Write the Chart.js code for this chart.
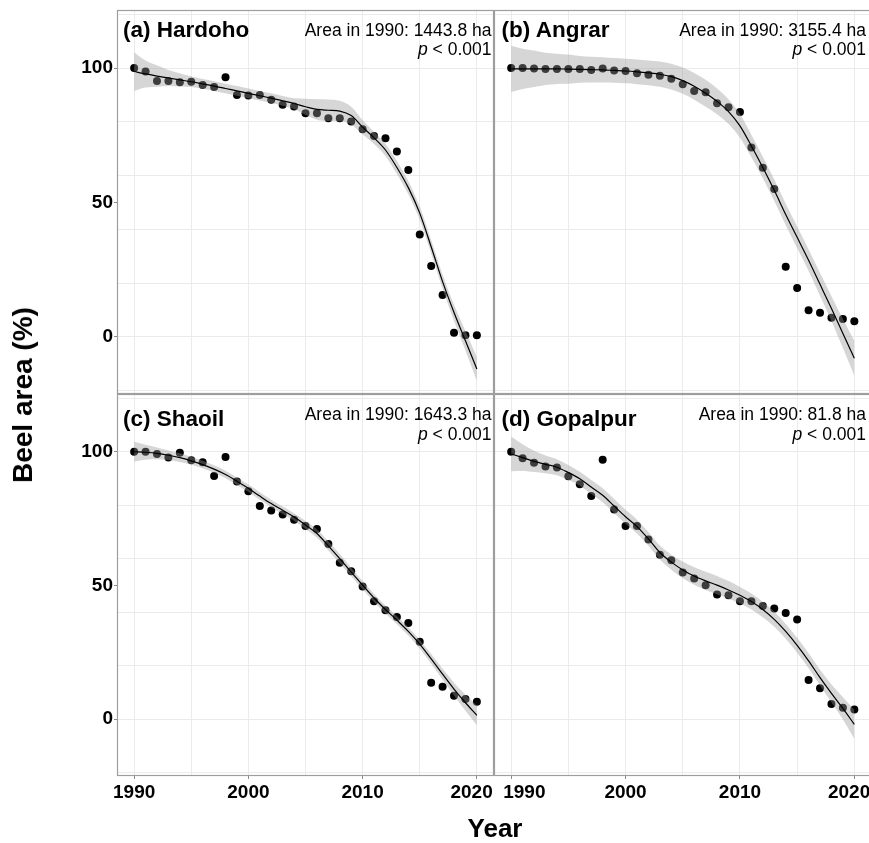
<!DOCTYPE html>
<html>
<head>
<meta charset="utf-8">
<script src="https://cdn.jsdelivr.net/npm/chart.js@4.4.1/dist/chart.umd.min.js"></script>
<style>
  html, body { margin: 0; padding: 0; background: #fff; overflow: hidden; }
  #wrap { position: relative; width: 869px; height: 843px; overflow: hidden;
          font-family: "Liberation Sans", Arial, sans-serif; color: #000; }
  #wrap canvas { position: absolute; left: 0; top: 0; }
  .lab { position: absolute; white-space: nowrap; line-height: 1; }
  .ttl { font-weight: bold; font-size: 22.5px; }
  .ann { font-size: 17.5px; transform: translateX(-100%); }
  .axt { font-weight: bold; }
</style>
</head>
<body>
<div id="wrap">
  <canvas id="panelA" width="880" height="843"></canvas>
  <canvas id="panelB" width="880" height="843"></canvas>
  <canvas id="panelC" width="880" height="843"></canvas>
  <canvas id="panelD" width="880" height="843"></canvas>

  <div class="lab ttl" style="left:123px;top:19px">(a) Hardoho</div>
  <div class="lab ann" style="left:491.5px;top:22px">Area in 1990: 1443.8 ha</div>
  <div class="lab ann" style="left:491.5px;top:41px"><i>p</i> &lt; 0.001</div>

  <div class="lab ttl" style="left:501.5px;top:19px">(b) Angrar</div>
  <div class="lab ann" style="left:866px;top:22px">Area in 1990: 3155.4 ha</div>
  <div class="lab ann" style="left:866px;top:41px"><i>p</i> &lt; 0.001</div>

  <div class="lab ttl" style="left:123px;top:408px">(c) Shaoil</div>
  <div class="lab ann" style="left:491.5px;top:405.5px">Area in 1990: 1643.3 ha</div>
  <div class="lab ann" style="left:491.5px;top:426px"><i>p</i> &lt; 0.001</div>

  <div class="lab ttl" style="left:501.5px;top:408px">(d) Gopalpur</div>
  <div class="lab ann" style="left:866px;top:405.5px">Area in 1990: 81.8 ha</div>
  <div class="lab ann" style="left:866px;top:426px"><i>p</i> &lt; 0.001</div>

  <div class="lab axt" style="left:23px;top:395px;font-size:28px;transform:translate(-50%,-50%) rotate(-90deg)">Beel area (%)</div>
  <div class="lab axt" style="left:495px;top:815px;font-size:26px;transform:translateX(-50%)">Year</div>
</div>

<script>
// years on the x axis
const years = [1990, 1991, 1992, 1993, 1994, 1995, 1996, 1997, 1998, 1999, 2000,
  2001, 2002, 2003, 2004, 2005, 2006, 2007, 2008, 2009, 2010,
  2011, 2012, 2013, 2014, 2015, 2016, 2017, 2018, 2019, 2020];

// tick / grid positions
const xGrid = [1990, 1995, 2000, 2005, 2010, 2015, 2020];
const xLabels = [1990, 2000, 2010, 2020];
const yGrid = [-20, 0, 20, 40, 60, 80, 100, 120];
const yLabels = [0, 50, 100];

// (a) Hardoho
const hardohoPts = [100, 98.7, 95.2, 95.2, 94.7, 94.9, 93.7, 92.9, 96.6, 90.0, 89.8, 90.0, 88.2, 86.3, 85.7, 83.2, 83.2, 81.3, 81.3, 80.1, 77.2, 74.7, 73.9, 68.9, 62.1, 38.1, 26.3, 15.5, 1.5, 0.6, 0.6];
const hardohoFit = [98.7, 97.8, 97.0, 96.3, 95.6, 94.9, 94.1, 93.3, 92.4, 91.5, 90.6, 89.7, 88.8, 87.8, 86.8, 85.6, 84.6, 84.3, 84.0, 82.3, 78.0, 74.0, 69.5, 63.0, 55.5, 46.0, 33.5, 20.5, 9.0, -1.5, -12.0];
const hardohoHi = [105.9, 102.8, 101.0, 99.3, 98.1, 96.9, 95.9, 95.1, 94.2, 93.3, 92.4, 91.5, 90.6, 89.6, 88.8, 88.6, 88.4, 88.3, 87.8, 85.6, 80.6, 76.3, 71.8, 65.4, 58.0, 48.5, 36.0, 23.1, 12.0, 2.1, -7.5];
const hardohoLo = [91.5, 92.8, 93.0, 93.3, 93.1, 92.9, 92.3, 91.5, 90.6, 89.7, 88.8, 87.9, 87.0, 86.0, 84.8, 82.6, 80.8, 80.3, 80.2, 79.0, 75.4, 71.7, 67.2, 60.6, 53.0, 43.5, 31.0, 17.9, 6.0, -5.1, -16.5];

// (b) Angrar
const angrarPts = [100, 100, 99.8, 99.6, 99.6, 99.6, 99.6, 99.3, 99.8, 99.1, 98.9, 98.1, 97.5, 97.1, 96.0, 94.0, 91.5, 91.0, 86.9, 85.4, 83.6, 70.4, 62.9, 55.0, 26.1, 18.1, 9.9, 8.9, 7.1, 6.6, 5.8];
const angrarFit = [99.7, 99.7, 99.7, 99.7, 99.7, 99.6, 99.5, 99.4, 99.3, 99.1, 98.9, 98.6, 98.2, 97.7, 96.8, 95.3, 93.2, 90.6, 87.6, 83.8, 78.5, 71.0, 63.0, 54.5, 45.5, 37.0, 28.5, 19.5, 10.5, 1.2, -8.0];
const angrarHi = [108.3, 107.2, 106.5, 105.7, 105.3, 105.0, 104.5, 104.2, 104.0, 103.7, 103.5, 103.2, 102.8, 102.4, 101.6, 100.2, 98.2, 95.6, 92.4, 88.4, 82.9, 75.2, 67.0, 58.5, 49.5, 41.0, 32.5, 23.7, 15.1, 6.6, -1.5];
const angrarLo = [91.1, 92.2, 92.9, 93.7, 94.1, 94.2, 94.5, 94.6, 94.6, 94.5, 94.3, 94.0, 93.6, 93.0, 92.0, 90.4, 88.2, 85.6, 82.8, 79.2, 74.1, 66.8, 59.0, 50.5, 41.5, 33.0, 24.5, 15.3, 5.9, -4.2, -14.5];

// (c) Shaoil
const shaoilPts = [100, 100, 99.2, 97.8, 99.6, 96.8, 96.1, 90.9, 98.0, 88.9, 85.2, 79.7, 78.0, 76.5, 74.6, 72.2, 71.1, 65.5, 58.5, 55.3, 49.6, 44.1, 40.7, 38.2, 35.9, 28.9, 13.6, 12.1, 8.7, 7.5, 6.5];
const shaoilFit = [100.0, 99.8, 99.4, 98.7, 97.8, 96.6, 95.2, 93.5, 91.5, 89.0, 86.3, 83.4, 80.6, 78.1, 75.6, 72.6, 69.4, 64.8, 60.0, 55.0, 50.1, 45.3, 41.0, 37.0, 32.8, 28.0, 22.5, 16.8, 11.2, 6.1, 1.4];
const shaoilHi = [103.7, 102.6, 101.6, 100.5, 99.4, 98.1, 96.6, 94.9, 92.9, 90.4, 87.7, 84.8, 82.0, 79.5, 77.0, 74.1, 71.0, 66.5, 61.7, 56.6, 51.6, 46.8, 42.5, 38.5, 34.3, 29.6, 24.3, 18.8, 13.6, 9.1, 5.1];
const shaoilLo = [96.3, 97.0, 97.2, 96.9, 96.2, 95.1, 93.8, 92.1, 90.1, 87.6, 84.9, 82.0, 79.2, 76.7, 74.2, 71.1, 67.8, 63.1, 58.3, 53.4, 48.6, 43.8, 39.5, 35.5, 31.3, 26.4, 20.7, 14.8, 8.8, 3.1, -2.3];

// (d) Gopalpur
const gopalpurPts = [100, 97.6, 95.9, 94.5, 94.1, 90.8, 87.8, 83.4, 97.0, 78.4, 72.2, 72.2, 67.2, 61.5, 59.4, 54.8, 52.6, 50.1, 46.6, 46.3, 44.1, 44.1, 42.3, 41.4, 39.7, 37.2, 14.6, 11.5, 5.6, 4.2, 3.6];
const gopalpurFit = [99.2, 97.8, 96.4, 95.3, 94.2, 92.2, 89.9, 86.8, 83.7, 79.7, 75.7, 72.0, 67.4, 62.3, 58.7, 55.8, 53.5, 51.7, 50.1, 48.3, 46.3, 44.0, 41.0, 37.3, 32.8, 27.6, 21.8, 15.5, 9.6, 4.0, -2.0];
const gopalpurHi = [105.7, 102.8, 100.4, 98.6, 97.2, 95.0, 92.5, 89.4, 86.3, 82.3, 78.3, 74.6, 70.0, 64.9, 61.5, 58.9, 56.8, 55.1, 53.5, 51.6, 49.4, 47.0, 43.9, 40.1, 35.6, 30.4, 24.6, 18.4, 12.9, 8.2, 3.5];
const gopalpurLo = [92.7, 92.8, 92.4, 92.0, 91.2, 89.4, 87.3, 84.2, 81.1, 77.1, 73.1, 69.4, 64.8, 59.7, 55.9, 52.7, 50.2, 48.3, 46.7, 45.0, 43.2, 41.0, 38.1, 34.5, 30.0, 24.8, 19.0, 12.6, 6.3, -0.2, -7.5];

const FONT = '"Liberation Sans", Arial, sans-serif';
const NONE = 'rgba(0,0,0,0)';

function xy(vals) {
  return years.map((y, i) => ({ x: y, y: vals[i] }));
}

// panel frame drawn on top of the data, like ggplot's panel.border
const frame = {
  id: 'frame',
  afterDatasetsDraw(chart) {
    const a = chart.chartArea, ctx = chart.ctx;
    ctx.save();
    ctx.strokeStyle = '#9e9e9e';
    ctx.lineWidth = 1.2;
    ctx.strokeRect(a.left + 0.5, a.top + 0.5, a.right - a.left - 1, a.bottom - a.top - 1);
    ctx.restore();
  }
};

// labels at the panel edges are nudged (padded) so neighbours don't collide
const edgeLeft = { 2020: '2020  ' };
const edgeRight = { 1990: '     1990', 2020: '2020  ' };

function makePanel(id, pts, fit, hi, lo, pad, showX, showY, edge) {
  const canvas = document.getElementById(id);
  new Chart(canvas, {
    type: 'scatter',
    data: {
      datasets: [
        { label: 'fit', data: xy(fit), showLine: true, borderColor: '#000', borderWidth: 1.2,
          pointRadius: 0, cubicInterpolationMode: 'monotone', order: 0 },
        { label: 'hi', data: xy(hi), showLine: true, borderColor: NONE, borderWidth: 0,
          pointRadius: 0, cubicInterpolationMode: 'monotone', fill: false, order: 1 },
        { label: 'lo', data: xy(lo), showLine: true, borderColor: NONE, borderWidth: 0,
          pointRadius: 0, cubicInterpolationMode: 'monotone', fill: '-1',
          backgroundColor: 'rgba(153,153,153,0.4)', order: 1 },
        { label: 'points', data: xy(pts), backgroundColor: '#000', borderWidth: 0,
          pointRadius: 4, pointHoverRadius: 4, order: 2 }
      ]
    },
    options: {
      responsive: false,
      animation: false,
      events: [],
      layout: { padding: pad },
      plugins: { legend: { display: false }, tooltip: { enabled: false } },
      scales: {
        x: {
          type: 'linear', min: 1988.5, max: 2021.5,
          afterBuildTicks: s => { s.ticks = xGrid.map(v => ({ value: v })); },
          afterFit: s => { s.height = showX ? 28 : 0; s.paddingLeft = 0; s.paddingRight = 0; },
          border: { display: false },
          grid: {
            color: '#ebebeb', lineWidth: 1, drawTicks: showX, tickLength: 3,
            tickColor: c => (c.tick && xLabels.includes(c.tick.value)) ? '#8a8a8a' : NONE
          },
          ticks: {
            display: showX, autoSkip: false, maxRotation: 0, padding: 2, color: '#000',
            font: { family: FONT, size: 19, weight: 'bold' },
            callback: v => xLabels.includes(v) ? (edge[v] || String(v)) : ''
          }
        },
        y: {
          type: 'linear', min: -21.3, max: 121.6,
          afterBuildTicks: s => {
            s.ticks = [...new Set(yGrid.concat(yLabels))].sort((p, q) => p - q).map(v => ({ value: v }));
          },
          afterFit: s => { s.width = showY ? 57 : 0; s.paddingTop = 0; s.paddingBottom = 0; },
          border: { display: false },
          grid: {
            color: c => (c.tick && yGrid.includes(c.tick.value)) ? '#ebebeb' : NONE,
            lineWidth: 1, drawTicks: showY, tickLength: 3,
            tickColor: c => (c.tick && yLabels.includes(c.tick.value)) ? '#8a8a8a' : NONE
          },
          ticks: {
            display: showY, autoSkip: false, padding: 1, color: '#000',
            font: { family: FONT, size: 19, weight: 'bold' },
            callback: v => yLabels.includes(v) ? String(v) : ''
          }
        }
      }
    },
    plugins: [frame]
  });
}

// canvases are 880x843 and stacked; padding places each panel
makePanel('panelA', hardohoPts, hardohoFit, hardohoHi, hardohoLo,
  { left: 60, top: 10, right: 386, bottom: 449 }, false, true, edgeLeft);
makePanel('panelB', angrarPts, angrarFit, angrarHi, angrarLo,
  { left: 494, top: 10, right: 8.5, bottom: 449 }, false, false, edgeRight);
makePanel('panelC', shaoilPts, shaoilFit, shaoilHi, shaoilLo,
  { left: 60, top: 394, right: 386, bottom: 39 }, true, true, edgeLeft);
makePanel('panelD', gopalpurPts, gopalpurFit, gopalpurHi, gopalpurLo,
  { left: 494, top: 394, right: 8.5, bottom: 39 }, true, false, edgeRight);
</script>
</body>
</html>
